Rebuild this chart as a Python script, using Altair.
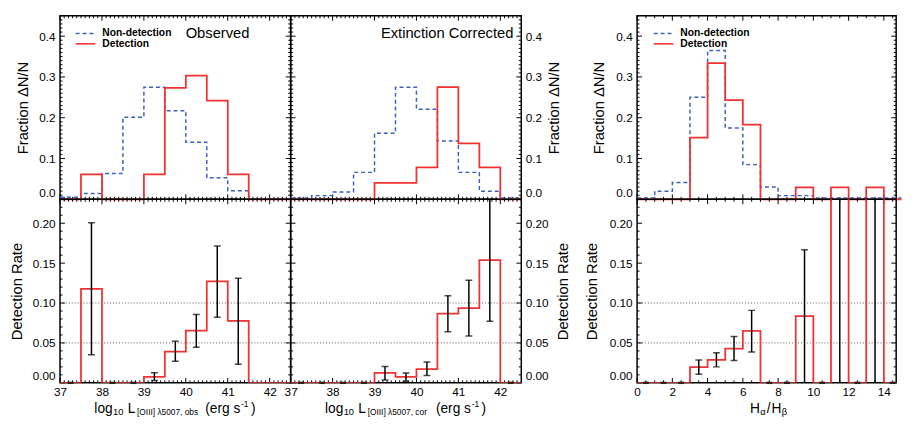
import altair as alt
import pandas as pd

FONT = "Liberation Sans"
RED = "#f03232"
BLUE = "#3d5fc2"

# ---------------- data ----------------
lum_edges = [37.0, 37.5, 38.0, 38.5, 39.0, 39.5, 40.0, 40.5, 41.0, 41.5, 42.0, 42.5]
bd_edges = [0, 1, 2, 3, 4, 5, 6, 7, 8, 9, 10, 11, 12, 13, 14, 15]

# Observed [OIII] luminosity
obs_nondet = [0.005, 0.014, 0.063, 0.201, 0.275, 0.217, 0.140, 0.053, 0.021, 0.0, 0.0]
obs_det = [0.0, 0.061, 0.0, 0.0, 0.061, 0.273, 0.303, 0.242, 0.061, 0.0, 0.0]
obs_rate = [0.0, 0.1177, 0.0, 0.0, 0.0076, 0.039, 0.0655, 0.127, 0.0775, 0.0, 0.0]
obs_err_x = [37.75, 39.25, 39.75, 40.25, 40.75, 41.25]
obs_err_lo = [0.0353, 0.003, 0.027, 0.0446, 0.0823, 0.0233]
obs_err_hi = [0.2005, 0.0125, 0.052, 0.0855, 0.1715, 0.131]
obs_zero_x = [37.25, 38.25, 38.75]

# Extinction-corrected [OIII] luminosity
cor_nondet = [0.003, 0.009, 0.018, 0.066, 0.162, 0.275, 0.221, 0.143, 0.066, 0.020, 0.003]
cor_det = [0.0, 0.0, 0.0, 0.0, 0.040, 0.040, 0.078, 0.275, 0.137, 0.078, 0.0]
cor_rate = [0.0, 0.0, 0.0, 0.0, 0.0124, 0.0076, 0.0173, 0.0867, 0.0936, 0.1538, 0.0]
cor_err_x = [39.25, 39.75, 40.25, 40.75, 41.25, 41.75]
cor_err_lo = [0.0036, 0.002, 0.0092, 0.0639, 0.0586, 0.0771]
cor_err_hi = [0.0205, 0.0124, 0.0261, 0.1092, 0.1285, 0.26]
cor_zero_x = [37.25, 37.75, 38.25, 38.75, 42.25]

# Balmer decrement
bd_nondet = [0.003, 0.020, 0.041, 0.250, 0.365, 0.175, 0.085, 0.030, 0.009, 0.009,
             0.003, 0.003, 0.003, 0.003, 0.003]
bd_det = [0.0, 0.0, 0.0, 0.151, 0.334, 0.243, 0.183, 0.0, 0.0, 0.029, 0.0, 0.029, 0.0, 0.029, 0.0]
bd_rate = [0.0, 0.0, 0.0, 0.0197, 0.0289, 0.043, 0.065, 0.0, 0.0, 0.0835, 0.0, 1.0, 0.0, 1.0, 0.0]
bd_err_x = [3.5, 4.5, 5.5, 6.5, 9.5, 11.5, 13.5]
bd_err_lo = [0.0108, 0.020, 0.028, 0.0386, 0.0, 0.0, 0.0]
bd_err_hi = [0.0285, 0.0378, 0.058, 0.0908, 0.1667, 1.0, 1.0]
bd_zero_x = [0.5, 1.5, 2.5, 7.5, 8.5, 10.5, 12.5, 14.5]

# tick values
lum_major = [37, 38, 39, 40, 41, 42]
lum_minor = [round(37 + 0.1 * i, 1) for i in range(56) if i % 10]
frac_major = [0.0, 0.1, 0.2, 0.3, 0.4]
frac_minor = [round(0.01 * i, 2) for i in range(46) if i % 10]
rate_major = [0.0, 0.05, 0.10, 0.15, 0.20]
rate_minor = [round(0.01 * i, 2) for i in range(24) if i % 5]
bd_major = [0, 2, 4, 6, 8, 10, 12, 14]
bd_minor = [0.5 * i for i in range(30) if i % 4]
dotted_levels = [0.05, 0.10]

legend_labels = ["Non-detection", "Detection"]
panel_titles = ["Observed", "Extinction Corrected"]
y_titles = ["Fraction \u0394N/N", "Detection Rate"]

# ---------------- layout ----------------
H = 187
W_L = 235
W_R = 264
GAP = 118
LUM_DOM = [37.0, 42.5]
BD_DOM = [0.0, 14.7]
FRAC_DOM = [0.0, 0.45]
RATE_DOM = [0.0, 0.23]

one = pd.DataFrame({"d": [0]})


def txt(s, x, y, size, weight="normal", align="left", baseline="alphabetic"):
    return alt.Chart(one).mark_text(
        text=s, font=FONT, fontSize=size, fontWeight=weight, align=align,
        baseline=baseline, color="black"
    ).encode(x=alt.value(x), y=alt.value(y))


def seg(x1, x2, y, color, dash=None, sw=1.6):
    kw = dict(color=color, strokeWidth=sw)
    if dash:
        kw["strokeDash"] = dash
    return alt.Chart(one).mark_rule(**kw).encode(x=alt.value(x1), x2=alt.value(x2), y=alt.value(y))


def panel(W, edges, xdom, ydom, xmaj, xmin_, ymaj, ymin_, xaxis, yaxis, series,
          err=None, zeros=None, grid=None, extras=(), clip=False):
    xs = alt.Scale(domain=xdom, nice=False, zero=False)
    ys = alt.Scale(domain=ydom, nice=False, zero=False)

    def X(f):
        return alt.X(f + ":Q", scale=xs, axis=xaxis)

    def Y(f):
        return alt.Y(f + ":Q", scale=ys, axis=yaxis)

    layers = []
    if grid is not None:
        layers.append(alt.Chart(pd.DataFrame({"y": grid})).mark_rule(
            color="#444444", strokeDash=[1, 2], strokeWidth=0.9).encode(y=Y("y")))
    for vals, L in ((xmaj, 5), (xmin_, 2.5)):
        d = pd.DataFrame({"x": vals})
        layers.append(alt.Chart(d).mark_rule(color="black", strokeWidth=1).encode(
            x=X("x"), y=alt.value(0), y2=alt.value(L)))
        layers.append(alt.Chart(d).mark_rule(color="black", strokeWidth=1).encode(
            x=X("x"), y=alt.value(H - L), y2=alt.value(H)))
    for vals, L in ((ymaj, 5), (ymin_, 2.5)):
        d = pd.DataFrame({"y": vals})
        layers.append(alt.Chart(d).mark_rule(color="black", strokeWidth=1).encode(
            y=Y("y"), x=alt.value(0), x2=alt.value(L)))
        layers.append(alt.Chart(d).mark_rule(color="black", strokeWidth=1).encode(
            y=Y("y"), x=alt.value(W - L), x2=alt.value(W)))
    for vals, color, dash, sw in series:
        d = pd.DataFrame({"x": edges, "y": list(vals) + [vals[-1]]})
        kw = dict(interpolate="step-after", color=color, strokeWidth=sw, clip=clip)
        if dash:
            kw["strokeDash"] = dash
        layers.append(alt.Chart(d).mark_line(**kw).encode(x=X("x"), y=Y("y")))
    if err is not None:
        ex, lo, hi = err
        d = pd.DataFrame({"x": ex, "lo": lo, "hi": hi})
        layers.append(alt.Chart(d).mark_rule(color="black", strokeWidth=1.5, clip=True).encode(
            x=X("x"), y=Y("lo"), y2=alt.Y2("hi")))
        layers.append(alt.Chart(d).mark_tick(orient="horizontal", color="black", size=7,
                                             thickness=1.5, clip=True).encode(x=X("x"), y=Y("lo")))
        layers.append(alt.Chart(d).mark_tick(orient="horizontal", color="black", size=7,
                                             thickness=1.5, clip=True).encode(x=X("x"), y=Y("hi")))
    if zeros is not None:
        d = pd.DataFrame({"x": zeros, "y": [0.0] * len(zeros)})
        layers.append(alt.Chart(d).mark_tick(orient="horizontal", color="black", size=6,
                                             thickness=2.5).encode(x=X("x"), y=Y("y")))
    layers.extend(extras)
    return alt.layer(*layers).properties(width=W, height=H)


def yax(orient, fmt, values, title, tx, pad):
    return alt.Axis(orient=orient, values=values, format=fmt, labelFlush=True,
                    labelPadding=pad, title=title, titleX=tx, titleY=H / 2,
                    titleAngle=270, titleAlign="center", titleBaseline="middle")


def xax(values):
    return alt.Axis(orient="bottom", values=values, format="d", labelFlush=False,
                    labelPadding=4, title=None)


BASE = H + 30.5
SUB = BASE + 2.5


def lum_title(sub):
    return [
        txt("log", 35, BASE, 14),
        txt("10", 54, SUB, 9.5),
        txt("L", 69, BASE, 14),
        txt("[OIII] \u03bb5007, " + sub, 78.5, SUB, 8.5),
        txt("(erg s", 148, BASE, 14),
        txt("-1", 184.5, BASE - 5.5, 8.5),
        txt(")", 194.5, BASE, 14),
    ]


def legend(x0):
    return [
        seg(x0, x0 + 20, 18, BLUE, dash=[4, 3], sw=1.5),
        txt(legend_labels[0], x0 + 27, 18, 10.5, weight="bold", baseline="middle"),
        seg(x0, x0 + 20, 28.6, RED, sw=1.6),
        txt(legend_labels[1], x0 + 27, 28.6, 10.5, weight="bold", baseline="middle"),
    ]


def hist_series(nd, det):
    return [(nd, BLUE, [4, 3], 1.5), (det, RED, None, 1.8)]


TL = panel(W_L, lum_edges, LUM_DOM, FRAC_DOM, lum_major, lum_minor, frac_major, frac_minor,
           None, yax("left", ".1f", frac_major, y_titles[0], -38.3, 5),
           hist_series(obs_nondet, obs_det),
           extras=legend(16) + [txt(panel_titles[0], 128, 17.5, 15, baseline="middle")])

TM = panel(W_L, lum_edges, LUM_DOM, FRAC_DOM, lum_major, lum_minor, frac_major, frac_minor,
           None, yax("right", ".1f", frac_major, y_titles[0], 33, 4),
           hist_series(cor_nondet, cor_det),
           extras=[txt(panel_titles[1], 227, 17.5, 15, align="right", baseline="middle")])

TR = panel(W_R, bd_edges, BD_DOM, FRAC_DOM, bd_major, bd_minor, frac_major, frac_minor,
           None, yax("left", ".1f", frac_major, y_titles[0], -39, 5),
           hist_series(bd_nondet, bd_det),
           extras=legend(17))

BL = panel(W_L, lum_edges, LUM_DOM, RATE_DOM, lum_major, lum_minor, rate_major, rate_minor,
           xax(lum_major), yax("left", ".2f", rate_major, y_titles[1], -44.5, 5),
           [(obs_rate, RED, None, 1.8)],
           err=(obs_err_x, obs_err_lo, obs_err_hi), zeros=obs_zero_x, grid=dotted_levels,
           extras=lum_title("obs"), clip=True)

BM = panel(W_L, lum_edges, LUM_DOM, RATE_DOM, lum_major, lum_minor, rate_major, rate_minor,
           xax(lum_major), yax("right", ".2f", rate_major, y_titles[1], 42, 4),
           [(cor_rate, RED, None, 1.8)],
           err=(cor_err_x, cor_err_lo, cor_err_hi), zeros=cor_zero_x, grid=dotted_levels,
           extras=lum_title("cor"), clip=True)

BR = panel(W_R, bd_edges, BD_DOM, RATE_DOM, bd_major, bd_minor, rate_major, rate_minor,
           xax(bd_major), yax("left", ".2f", rate_major, y_titles[1], -46, 5),
           [(bd_rate, RED, None, 1.8)],
           err=(bd_err_x, bd_err_lo, bd_err_hi), zeros=bd_zero_x, grid=dotted_levels,
           extras=[txt("H", 115, BASE, 14), txt("\u03b1", 125.5, SUB, 9.5),
                   txt("/", 132, BASE, 14), txt("H", 137, BASE, 14),
                   txt("\u03b2", 147.5, SUB, 9.5)],
           clip=True)


def gap():
    return alt.Chart(one).mark_point(opacity=0, size=1).encode(
        x=alt.value(GAP / 2), y=alt.value(H / 2)
    ).properties(width=GAP, height=H, view=alt.ViewBackground(stroke="transparent"))


chart = alt.concat(
    TL, TM, gap(), TR, BL, BM, gap(), BR, columns=4, spacing=0, bounds="flush"
).properties(
    padding={"left": 0, "top": 2, "right": 0, "bottom": 0}, background="white"
).configure_view(
    stroke="black", strokeWidth=1.5
).configure_axis(
    domain=False, ticks=False, grid=False, labelFont=FONT, labelFontSize=12,
    labelColor="black", titleFont=FONT, titleFontSize=15, titleFontWeight="normal",
    titleColor="black"
)

chart.save("out.html", embed_options={"renderer": "svg", "actions": False})
